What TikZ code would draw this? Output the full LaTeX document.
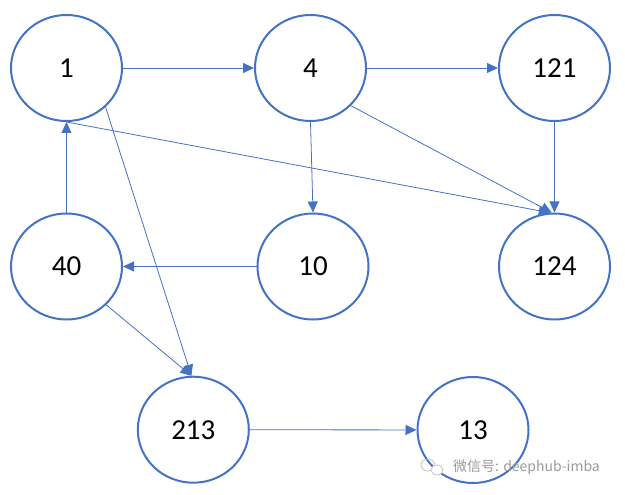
\documentclass[tikz,border=0pt]{standalone}
\usepackage{fontspec}
\setmainfont{Carlito}
\newfontfamily\cjk{Noto Sans CJK SC}
\usetikzlibrary{shapes.geometric,arrows.meta}
\definecolor{nodeblue}{HTML}{4472C4}
\definecolor{wmgray}{HTML}{9A9A9A}
\tikzset{
  vert/.style={ellipse, draw=nodeblue, line width=2pt, minimum width=111pt, minimum height=106pt, inner sep=0pt, font=\fontsize{29}{32}\selectfont, text=black},
  conn/.style={draw=nodeblue, line width=0.8pt, -{Triangle[length=11pt,width=10pt]}},
  wmtext/.style={text=wmgray, font=\cjk\fontsize{14}{16}\selectfont, inner sep=0pt, anchor=west}
}
\begin{document}
\begin{tikzpicture}[x=1pt,y=-1pt]
\useasboundingbox (0,0) rectangle (625,495);
\node[vert] (n1) at (66.5,68) {1};
\node[vert] (n4) at (310.5,68) {4};
\node[vert] (n121) at (554.5,68) {121};
\node[vert] (n40) at (66.5,266.5) {40};
\node[vert] (n10) at (313,266.5) {10};
\node[vert] (n124) at (554.5,266.5) {124};
\node[vert] (n213) at (193.3,429.7) {213};
\node[vert] (n13) at (473,430) {13};

\draw[conn] (n1) -- (n4);
\draw[conn] (n4) -- (n121);
\draw[conn] (n1.south) -- (n124.95);
\draw[conn] (n40.north) -- (n1.south);
\draw[conn] (n1.-45) -- (n213.92);
\draw[conn] (n4.south) -- (n10.north);
\draw[conn] (n4.-43) -- (n124.93);
\draw[conn] (n121.south) -- (n124.north);
\draw[conn] (n10) -- (n40);
\draw[conn] (n40.-44) -- (n213.92);
\draw[conn] (n213) -- (n13);

% watermark
\begin{scope}[draw=wmgray!60, line width=0.8pt]
  \draw (428,465) ellipse (7pt and 6pt);
  \draw[fill=white] (437,470) ellipse (6pt and 5pt);
\end{scope}
\node[wmtext] (wm) at (453,467) {微信号: deephub-imba};
\end{tikzpicture}
\end{document}
